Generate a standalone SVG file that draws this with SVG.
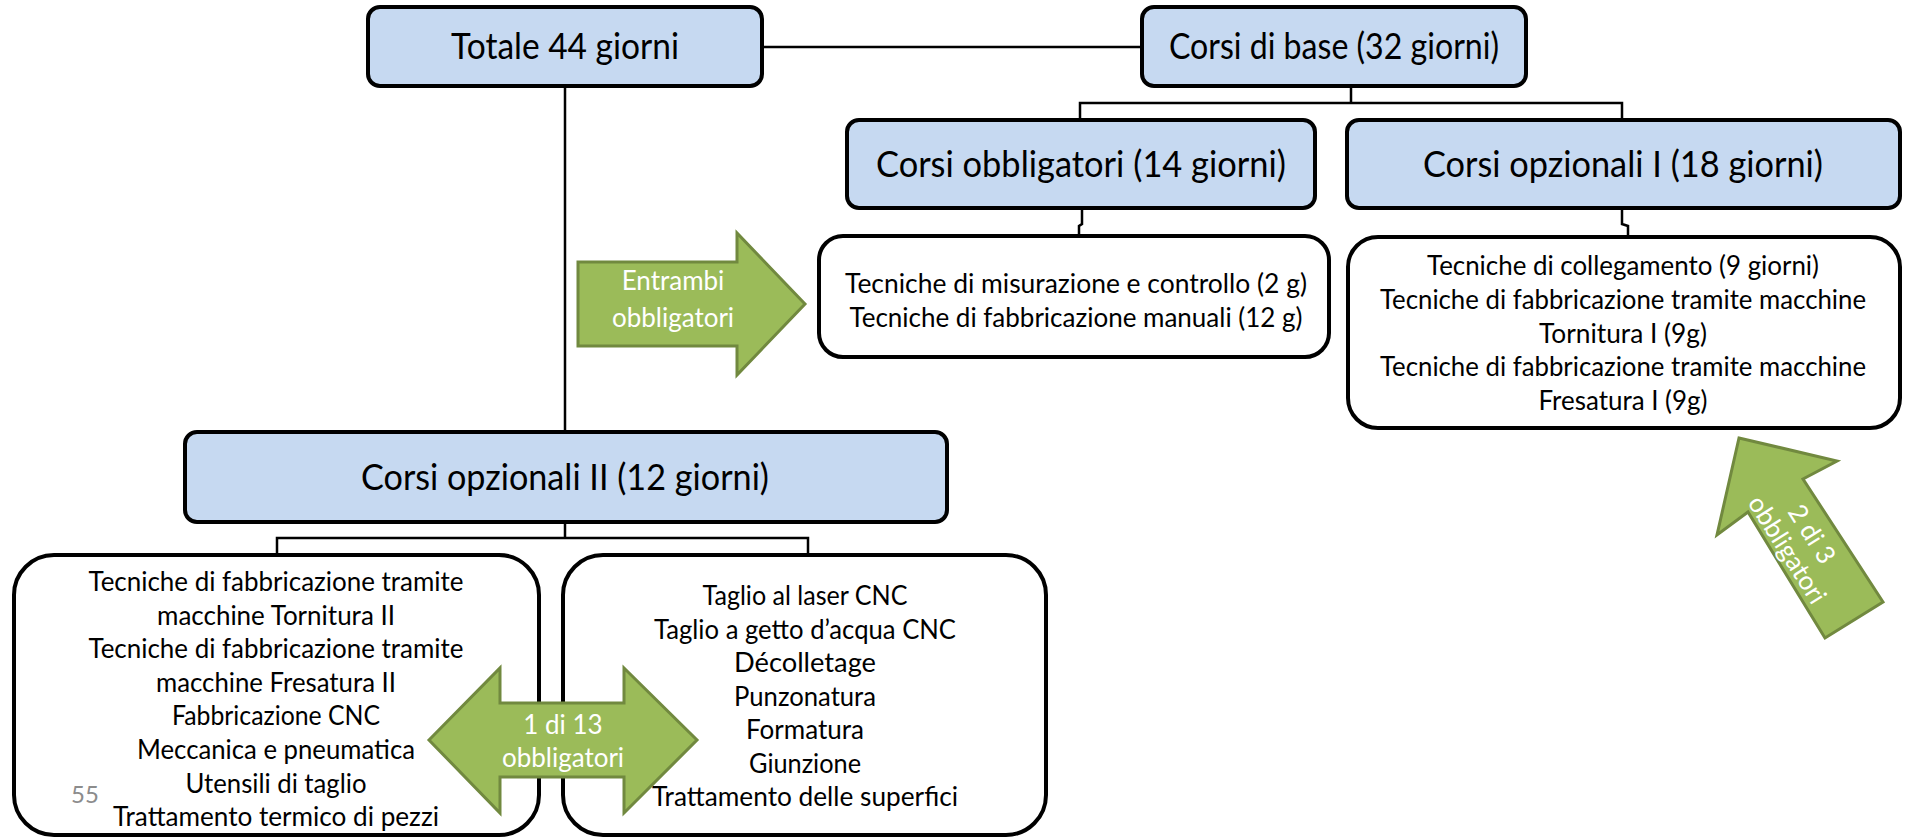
<svg xmlns="http://www.w3.org/2000/svg" width="1905" height="839" viewBox="0 0 1905 839">
<style>
.title{fill:#C6D9F1;stroke:#000;stroke-width:4}
.list{fill:#fff;stroke:#000;stroke-width:4}
.tt{font-family:Lato,"Liberation Sans",sans-serif;font-size:36px;fill:#000;text-anchor:middle}
.lt{font-family:Lato,"Liberation Sans",sans-serif;font-size:26px;fill:#000;text-anchor:middle}
.at{font-family:Lato,"Liberation Sans",sans-serif;font-size:26px;fill:#fff;text-anchor:middle}
.arrow{fill:#9BBB59;stroke:#71893F;stroke-width:3;stroke-linejoin:miter}
.conn{fill:none;stroke:#000;stroke-width:2.5}
</style>
<rect width="1905" height="839" fill="#fff"/>
<g id="connectors">
<path class="conn" d="M762,47 H1142"/>
<path class="conn" d="M565,86 V432"/>
<path class="conn" d="M1351,86 V103 M1080,120 V103 H1622 V120"/>
<path class="conn" d="M1082,208 V224 L1079,226 V236"/>
<path class="conn" d="M1622,208 V224 L1628,226 V237"/>
<path class="conn" d="M565,522 V538 M277,555 V538 H808 V555"/>
</g>
<g id="n-totale">
<rect class="title" x="368" y="7" width="394" height="79" rx="12"/>
<text class="tt" x="565" y="59" textLength="228" lengthAdjust="spacingAndGlyphs">Totale 44 giorni</text>
</g>
<g id="n-base">
<rect class="title" x="1142" y="7" width="384" height="79" rx="12"/>
<text class="tt" x="1334" y="59" textLength="330" lengthAdjust="spacingAndGlyphs">Corsi di base (32 giorni)</text>
</g>
<g id="n-obbligatori">
<rect class="title" x="847" y="120" width="468" height="88" rx="12"/>
<text class="tt" x="1081" y="177" textLength="410" lengthAdjust="spacingAndGlyphs">Corsi obbligatori (14 giorni)</text>
</g>
<g id="n-opzionali1">
<rect class="title" x="1347" y="120" width="553" height="88" rx="12"/>
<text class="tt" x="1623" y="177" textLength="400" lengthAdjust="spacingAndGlyphs">Corsi opzionali I (18 giorni)</text>
</g>
<g id="n-opzionali2">
<rect class="title" x="185" y="432" width="762" height="90" rx="12"/>
<text class="tt" x="565" y="490" textLength="408" lengthAdjust="spacingAndGlyphs">Corsi opzionali II (12 giorni)</text>
</g>
<g id="n-obbligatori-list">
<rect class="list" x="819" y="236" width="510" height="121" rx="24"/>
<text class="lt" x="1076" y="293" textLength="462" lengthAdjust="spacingAndGlyphs">Tecniche di misurazione  e controllo (2 g)</text>
<text class="lt" x="1076" y="327" textLength="453" lengthAdjust="spacingAndGlyphs">Tecniche di fabbricazione manuali (12 g)</text>
</g>
<g id="n-opzionali1-list">
<rect class="list" x="1348" y="237" width="552" height="191" rx="30"/>
<text class="lt" x="1623" y="275" textLength="392" lengthAdjust="spacingAndGlyphs">Tecniche di collegamento (9 giorni)</text>
<text class="lt" x="1623" y="309" textLength="486" lengthAdjust="spacingAndGlyphs">Tecniche di fabbricazione tramite macchine</text>
<text class="lt" x="1623" y="343" textLength="168" lengthAdjust="spacingAndGlyphs">Tornitura I (9g)</text>
<text class="lt" x="1623" y="376" textLength="486" lengthAdjust="spacingAndGlyphs">Tecniche di fabbricazione tramite macchine</text>
<text class="lt" x="1623" y="410" textLength="169" lengthAdjust="spacingAndGlyphs">Fresatura I (9g)</text>
</g>
<g id="n-opzionali2-list-a">
<rect class="list" x="14" y="555" width="525" height="280" rx="40"/>
<text class="lt" x="276" y="591" textLength="375" lengthAdjust="spacingAndGlyphs">Tecniche di fabbricazione tramite</text>
<text class="lt" x="276" y="624.6" textLength="238" lengthAdjust="spacingAndGlyphs">macchine Tornitura II</text>
<text class="lt" x="276" y="658.2" textLength="375" lengthAdjust="spacingAndGlyphs">Tecniche di fabbricazione tramite</text>
<text class="lt" x="276" y="691.8" textLength="240" lengthAdjust="spacingAndGlyphs">macchine Fresatura II</text>
<text class="lt" x="276" y="725.4" textLength="208" lengthAdjust="spacingAndGlyphs">Fabbricazione CNC</text>
<text class="lt" x="276" y="759" textLength="278" lengthAdjust="spacingAndGlyphs">Meccanica e pneumatica</text>
<text class="lt" x="276" y="792.6" textLength="181" lengthAdjust="spacingAndGlyphs">Utensili di taglio</text>
<text class="lt" x="276" y="826.2" textLength="326" lengthAdjust="spacingAndGlyphs">Trattamento termico di pezzi</text>
<text x="71" y="803" font-family="Lato, 'Liberation Sans', sans-serif" font-size="24" fill="#8C8C8C">55</text>
</g>
<g id="n-opzionali2-list-b">
<rect class="list" x="563" y="555" width="483" height="280" rx="40"/>
<text class="lt" x="805" y="605" textLength="205" lengthAdjust="spacingAndGlyphs">Taglio al laser CNC</text>
<text class="lt" x="805" y="638.5" textLength="302" lengthAdjust="spacingAndGlyphs">Taglio a getto d’acqua CNC</text>
<text class="lt" x="805" y="672" textLength="142" lengthAdjust="spacingAndGlyphs">Décolletage</text>
<text class="lt" x="805" y="705.5" textLength="142" lengthAdjust="spacingAndGlyphs">Punzonatura</text>
<text class="lt" x="805" y="739" textLength="118" lengthAdjust="spacingAndGlyphs">Formatura</text>
<text class="lt" x="805" y="772.5" textLength="112" lengthAdjust="spacingAndGlyphs">Giunzione</text>
<text class="lt" x="805" y="806" textLength="306" lengthAdjust="spacingAndGlyphs">Trattamento delle superfici</text>
</g>
<g id="arrow-entrambi">
<polygon class="arrow" points="578,262 737,262 737,233 805,304 737,375 737,346 578,346"/>
<text class="at" x="673" y="290">Entrambi</text>
<text class="at" x="673" y="327">obbligatori</text>
</g>
<g id="arrow-1di13">
<polygon class="arrow" points="429,740 500,668 500,703 624,703 624,668 697,740 624,813 624,777 500,777 500,813"/>
<text class="at" x="563" y="734">1 di 13</text>
<text class="at" x="563" y="767">obbligatori</text>
</g>
<g id="arrow-2di3">
<polygon class="arrow" points="1739,438 1837,461 1803,479 1883,602 1825,638 1748,512 1717,535"/>
<g transform="translate(1799.2,542.1) rotate(57.7)">
<text class="at" x="0" y="-6">2 di 3</text>
<text class="at" x="0" y="23">obbligatori</text>
</g>
</g>
</svg>
